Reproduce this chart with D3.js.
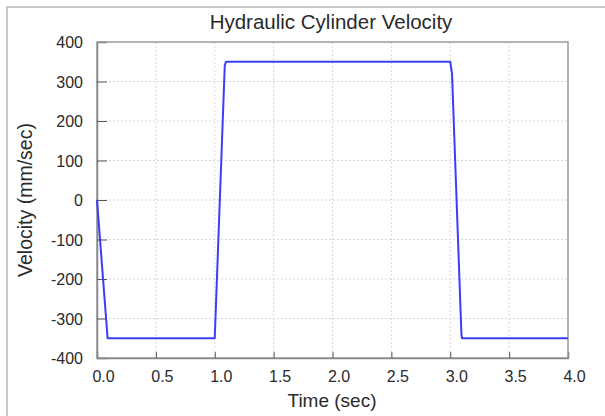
<!DOCTYPE html>
<html>
<head>
<meta charset="utf-8">
<script src="https://cdn.jsdelivr.net/npm/d3@7"></script>
<style>
  body { margin: 0; background: #fff; }
  svg text { font-family: "Liberation Sans", Arial, sans-serif; fill: #2a2a2a; }
</style>
</head>
<body>
<div id="chart"></div>
<script>
// time (sec) and velocity (mm/sec)
var timeSec = [0, 0.09, 1.0, 1.085, 1.095, 3.0, 3.015, 3.095, 3.1, 4.0];
var velocity = [0, -350, -350, 340, 350, 350, 320, -340, -350, -350];
var xTicks = [0, 0.5, 1, 1.5, 2, 2.5, 3, 3.5, 4];
var yTicks = [-400, -300, -200, -100, 0, 100, 200, 300, 400];

var width = 605, height = 416;
var margin = {left: 97, right: 37, top: 42, bottom: 58};

var svg = d3.select("#chart").append("svg")
	.attr("width", width)
	.attr("height", height);

// outer frame
svg.append("rect")
	.attr("x", 7).attr("y", 7)
	.attr("width", 640).attr("height", 440)
	.attr("fill", "none")
	.attr("stroke", "#c8c8c8")
	.attr("stroke-width", 2);

var x = d3.scaleLinear().domain([0, 4]).range([margin.left, width - margin.right]);
var y = d3.scaleLinear().domain([-400, 400]).range([height - margin.bottom, margin.top]);

// grid
svg.append("g").selectAll("line.vg")
	.data(xTicks.slice(1, -1)).enter().append("line")
	.attr("x1", d => x(d)).attr("x2", d => x(d))
	.attr("y1", y(400)).attr("y2", y(-400))
	.attr("stroke", "#d8d8d8").attr("stroke-dasharray", "2,2");
svg.append("g").selectAll("line.hg")
	.data(yTicks.slice(1, -1)).enter().append("line")
	.attr("x1", x(0)).attr("x2", x(4))
	.attr("y1", d => y(d)).attr("y2", d => y(d))
	.attr("stroke", "#d8d8d8").attr("stroke-dasharray", "2,2");

// plot border
svg.append("rect")
	.attr("x", x(0)).attr("y", y(400))
	.attr("width", x(4) - x(0)).attr("height", y(-400) - y(400))
	.attr("fill", "none")
	.attr("stroke", "#9a9a9a")
	.attr("stroke-width", 1.5);

// axes (plain hyphen for negatives, like the original)
var yAxis = d3.axisLeft(y).tickValues(yTicks).tickSize(-10).tickPadding(15)
	.tickFormat(d => String(d));
var gy = svg.append("g").attr("transform", "translate(" + x(0) + ",0)").call(yAxis);
gy.selectAll("text").style("font-size", "16px").attr("dy", "0.36em").attr("x", -14);

var xAxis = d3.axisBottom(x).tickValues(xTicks).tickSize(-6).tickPadding(13)
	.tickFormat(d3.format(".1f"));
var gx = svg.append("g").attr("transform", "translate(0," + y(-400) + ")").call(xAxis);
gx.selectAll("text").style("font-size", "16px").attr("dx", 6);

svg.selectAll(".domain").attr("stroke", "#888").attr("stroke-width", 1.5);
svg.selectAll(".tick line").attr("stroke", "#555");
gy.selectAll(".tick").filter(d => d == 400 || d == -400).select("line").remove();
gx.selectAll(".tick").filter(d => d == 0 || d == 4).select("line").remove();

// data line
var line = d3.line().x((d, i) => x(timeSec[i])).y(d => y(d));
svg.append("path")
	.datum(velocity)
	.attr("d", line)
	.attr("fill", "none")
	.attr("stroke", "#3c3cff")
	.attr("stroke-width", 2)
	.attr("stroke-linejoin", "round");

// titles
svg.append("text")
	.attr("x", 331).attr("y", 29)
	.attr("text-anchor", "middle")
	.style("font-size", "20.5px")
	.text("Hydraulic Cylinder Velocity");

svg.append("text")
	.attr("x", 332).attr("y", 407)
	.attr("text-anchor", "middle")
	.style("font-size", "19px")
	.text("Time (sec)");

svg.append("text")
	.attr("transform", "translate(32," + y(0) + ") rotate(-90)")
	.attr("text-anchor", "middle")
	.style("font-size", "19.5px")
	.text("Velocity (mm/sec)");
</script>
</body>
</html>
